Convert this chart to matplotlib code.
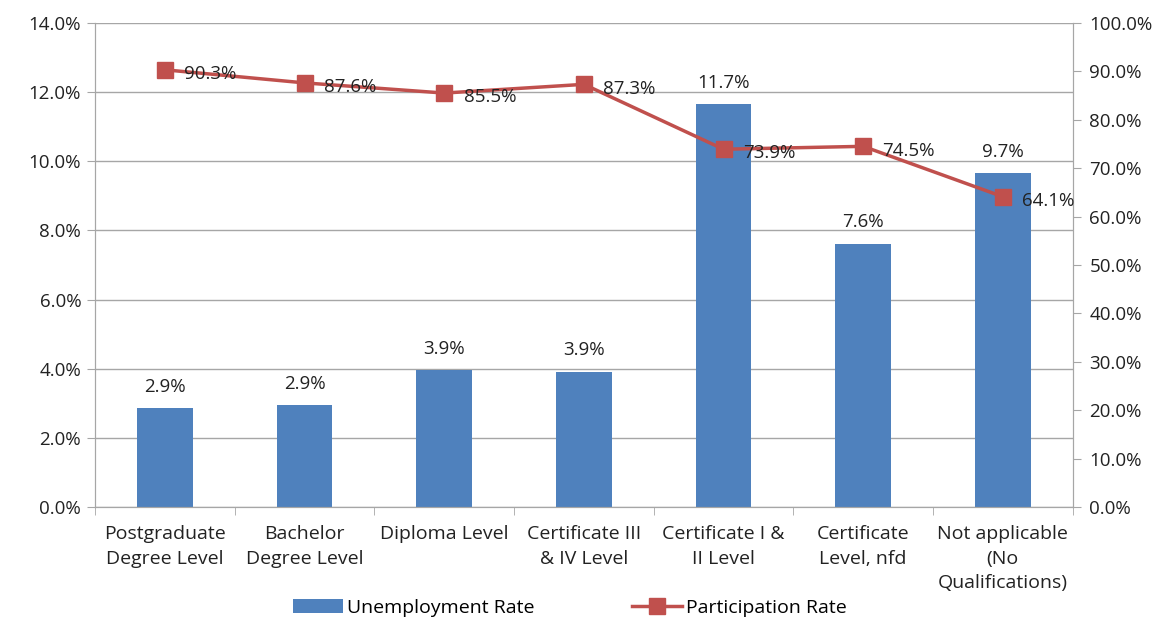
import matplotlib.pyplot as plt
import numpy as np

plt.rcParams['font.family'] = ['Open Sans', 'DejaVu Sans']

categories = ["Postgraduate\nDegree Level", "Bachelor\nDegree Level", "Diploma Level",
              "Certificate III\n& IV Level", "Certificate I &\nII Level",
              "Certificate\nLevel, nfd", "Not applicable\n(No\nQualifications)"]
unemployment = [2.87, 2.94, 3.96, 3.92, 11.65, 7.62, 9.66]
unemp_labels = ["2.9%", "2.9%", "3.9%", "3.9%", "11.7%", "7.6%", "9.7%"]
participation = [90.3, 87.6, 85.5, 87.3, 73.9, 74.5, 64.1]

BAR = "#4F81BD"
LINE = "#C0504D"
GRID = "#A6A6A6"
TXT = "#222222"
FS = 13.5

fig = plt.figure(figsize=(11.75, 6.17), dpi=100)
ax = fig.add_axes([0.0809, 0.178, 0.832, 0.785])
x = np.arange(len(categories))

ax.bar(x, unemployment, width=0.4, color=BAR, zorder=2, label="Unemployment Rate")
ax.set_xlim(-0.5, len(categories) - 0.5)
ax.set_ylim(0, 14)
ax.set_yticks(np.arange(0, 14.1, 2))
ax.set_yticklabels([f"{v:.1f}%" for v in np.arange(0, 14.1, 2)], fontsize=FS, color=TXT)
ax.yaxis.grid(True, color=GRID, lw=1.0, zorder=0)
ax.set_axisbelow(True)
for lbl, xi, v in zip(unemp_labels, x, unemployment):
    ax.text(xi, v + 0.35, lbl, ha="center", va="bottom", fontsize=FS, color=TXT)

ax.set_xticks(x)
ax.set_xticklabels(categories, fontsize=14, color=TXT, linespacing=1.45)
ax.tick_params(axis="x", which="major", length=0, pad=13)
ax.set_xticks(np.arange(-0.5, len(categories), 1), minor=True)
ax.tick_params(axis="x", which="minor", length=6, color=GRID)
ax.tick_params(axis="y", length=6, color=GRID, pad=4)

for s in ["left", "bottom", "right"]:
    ax.spines[s].set_color(GRID)
ax.spines["top"].set_visible(False)

ax2 = ax.twinx()
ax2.plot(x, participation, color=LINE, lw=2.5, marker="s", markersize=12,
         label="Participation Rate", zorder=3)
ax2.set_ylim(0, 100)
ax2.set_yticks(np.arange(0, 101, 10))
ax2.set_yticklabels([f"{v:.1f}%" for v in np.arange(0, 101, 10)], fontsize=FS, color=TXT)
ax2.tick_params(axis="y", length=6, color=GRID, pad=6)
for s in ["left", "bottom", "right"]:
    ax2.spines[s].set_color(GRID)
ax2.spines["top"].set_visible(False)
for xi, v in zip(x, participation):
    ax2.annotate(f"{v:.1f}%", (xi, v), xytext=(14, -3), textcoords="offset points",
                 ha="left", va="center", fontsize=FS, color=TXT)

h1, l1 = ax.get_legend_handles_labels()
h2, l2 = ax2.get_legend_handles_labels()
fig.legend(h1 + h2, l1 + l2, loc="lower center", bbox_to_anchor=(0.485, -0.028),
           ncol=2, frameon=False, fontsize=14, columnspacing=5, handlelength=2.6,
           handletextpad=0.2)

fig.savefig("out.png", dpi=100, facecolor="white")
